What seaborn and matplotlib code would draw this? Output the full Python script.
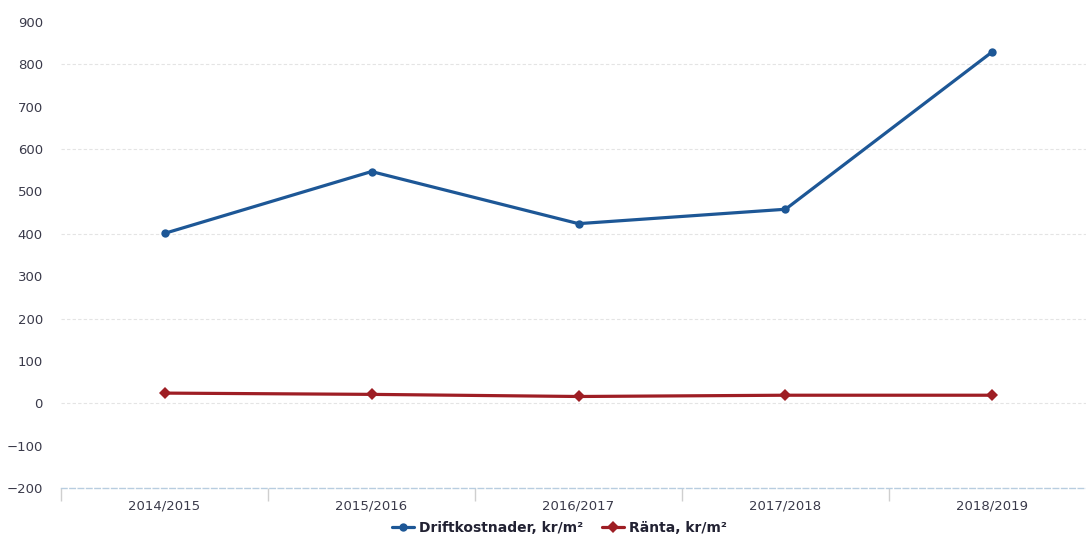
import matplotlib
matplotlib.use("Agg")
import matplotlib.pyplot as plt
import seaborn as sns
import pandas as pd
import numpy as np

years = ["2014/2015", "2015/2016", "2016/2017", "2017/2018", "2018/2019"]
drift = [401, 547, 424, 458, 830]
ranta = [24, 21, 16, 19, 19]
yticks = list(range(-200, 901, 100))

sns.set_theme(style="white")
plt.rcParams['font.family'] = ['DejaVu Sans']

df = pd.DataFrame({
    "År": years * 2,
    "Värde": drift + ranta,
    "Serie": ["Driftkostnader, kr/m²"] * len(years) + ["Ränta, kr/m²"] * len(years),
})

fig = plt.figure(figsize=(10.86, 5.36), dpi=100)
ax = fig.add_axes([61/1086, 48/536, 1035/1086, (488-22)/536])

blue = "#1d5796"
red = "#9e1e24"
sns.lineplot(data=df, x="År", y="Värde", hue="Serie", style="Serie",
             markers={"Driftkostnader, kr/m²": "o", "Ränta, kr/m²": "D"},
             dashes=False, palette={"Driftkostnader, kr/m²": blue, "Ränta, kr/m²": red},
             linewidth=2.3, markersize=6, markeredgewidth=0, ax=ax, legend=True)

ax.set_xlim(-0.5, 4.5)
ax.set_ylim(-200, 900)
ax.set_yticks(yticks)
ax.set_yticklabels([("−" + str(-v)) if v < 0 else str(v) for v in yticks])
ax.set_xlabel("")
ax.set_ylabel("")
for s in ["top", "right", "left"]:
    ax.spines[s].set_visible(False)
ax.spines["bottom"].set_color("#b8cde0")
ax.spines["bottom"].set_linestyle((0, (4, 2)))
ax.spines["bottom"].set_linewidth(1)

for v in [0, 200, 400, 600, 800]:
    ax.axhline(v, color="#e4e4e4", lw=0.8, ls=(0, (3, 2)), zorder=0)

ax.tick_params(axis="y", length=0, labelsize=9.5, labelcolor="#3a3a4a", pad=13)
ax.tick_params(axis="x", which="major", length=0, labelsize=9.5, labelcolor="#3a3a4a", pad=8)
ax.set_xticks(np.arange(-0.5, 4.6, 1), minor=True)
ax.tick_params(axis="x", which="minor", bottom=True, direction="out", length=9,
               color="#cfcfcf", width=1)

handles, labels = ax.get_legend_handles_labels()
ax.get_legend().remove()
fig.legend(handles, labels, loc="lower center", bbox_to_anchor=(0.515, -0.022), ncol=2,
           frameon=False, handlelength=1.6, handletextpad=0.3, columnspacing=1.4,
           prop={"size": 10, "weight": "bold"})
for t in fig.legends[0].get_texts():
    t.set_color("#222233")

fig.savefig("out.png", dpi=100)
